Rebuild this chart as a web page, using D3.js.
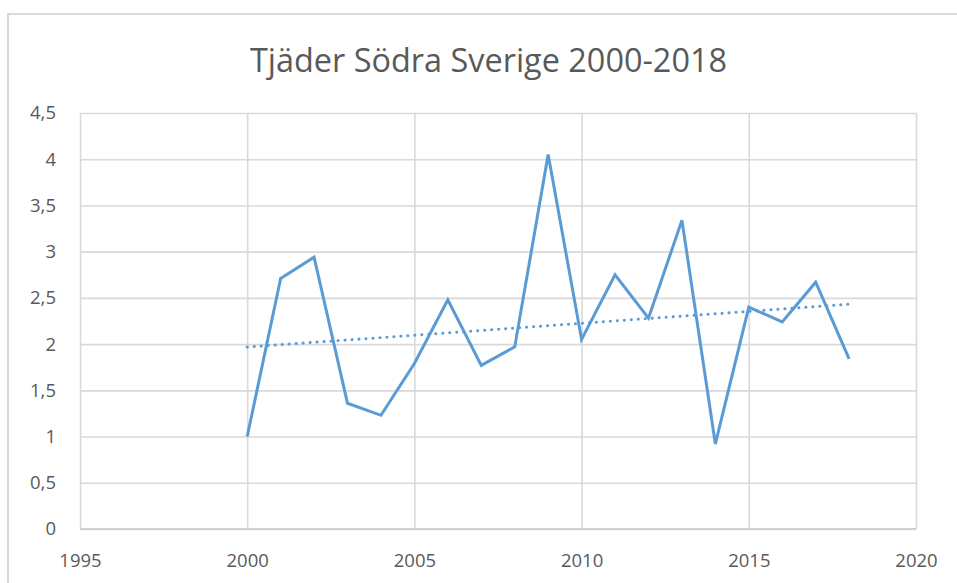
<!DOCTYPE html>
<html>
<head>
<meta charset="utf-8">
<script src="https://cdn.jsdelivr.net/npm/d3@7"></script>
<style>
  html, body { margin: 0; padding: 0; background: #fff; }
  svg { display: block; }
</style>
</head>
<body>
<svg id="chart" width="957" height="583"></svg>
<script>
// Capercaillie index, southern Sweden
const years = [2000, 2001, 2002, 2003, 2004, 2005, 2006, 2007, 2008, 2009,
               2010, 2011, 2012, 2013, 2014, 2015, 2016, 2017, 2018];
const values = [1.00, 2.71, 2.94, 1.36, 1.23, 1.79, 2.48, 1.77, 1.97, 4.05,
                2.05, 2.75, 2.28, 3.34, 0.92, 2.40, 2.24, 2.67, 1.84];
const xTicks = [1995, 2000, 2005, 2010, 2015, 2020];
const yTicks = [0, 0.5, 1, 1.5, 2, 2.5, 3, 3.5, 4, 4.5];
const titleText = "Tjäder Södra Sverige 2000-2018";

const svg = d3.select("#chart");
const font = "'Open Sans', 'Noto Sans', sans-serif";
const textColor = "#595959";
const gridColor = "#d9d9d9";
const lineColor = "#5b9bd5";

// outer chart frame
svg.append("rect")
  .attr("x", 8).attr("y", 14)
  .attr("width", 960).attr("height", 600)
  .attr("fill", "#fff")
  .attr("stroke", gridColor).attr("stroke-width", 2);

const plot = { left: 80, right: 916, top: 113, bottom: 529 };
const x = d3.scaleLinear().domain([1995, 2020]).range([plot.left, plot.right]);
const y = d3.scaleLinear().domain([0, 4.5]).range([plot.bottom, plot.top]);
const fmt = v => String(v).replace(".", ",");

// title
svg.append("text")
  .attr("x", 250).attr("y", 72)
  .attr("textLength", 477).attr("lengthAdjust", "spacingAndGlyphs")
  .attr("font-family", font).attr("font-size", 33)
  .attr("fill", textColor)
  .text(titleText);

// horizontal gridlines + y labels
const yAxis = d3.axisLeft(y).tickValues(yTicks).tickFormat(fmt)
  .tickSize(-(plot.right - plot.left)).tickPadding(24);
const gy = svg.append("g").attr("transform", `translate(${plot.left},0)`).call(yAxis);
gy.select(".domain").remove();
gy.selectAll(".tick line").attr("stroke", gridColor).attr("stroke-width", 1.6);
gy.selectAll(".tick text")
  .attr("font-family", font).attr("font-size", 18.5).attr("fill", textColor);

// vertical gridlines + x labels
const xAxis = d3.axisBottom(x).tickValues(xTicks).tickFormat(d3.format("d"))
  .tickSize(-(plot.bottom - plot.top)).tickPadding(25);
const gx = svg.append("g").attr("transform", `translate(0,${plot.bottom})`).call(xAxis);
gx.select(".domain").remove();
gx.selectAll(".tick line").attr("stroke", gridColor).attr("stroke-width", 1.6);
gx.selectAll(".tick text")
  .attr("font-family", font).attr("font-size", 18.5).attr("fill", textColor);

// horizontal axis baseline
svg.append("line")
  .attr("x1", plot.left).attr("x2", plot.right)
  .attr("y1", y(0)).attr("y2", y(0))
  .attr("stroke", "#cfcfcf").attr("stroke-width", 2);

// data series
const data = years.map((yr, i) => ({ yr, v: values[i] }));
svg.append("path")
  .datum(data)
  .attr("fill", "none")
  .attr("stroke", lineColor).attr("stroke-width", 3)
  .attr("stroke-linejoin", "miter")
  .attr("d", d3.line().x(d => x(d.yr)).y(d => y(d.v)));

// linear trend (least squares)
const mx = d3.mean(years), my = d3.mean(values);
const slope = d3.sum(data, d => (d.yr - mx) * (d.v - my)) / d3.sum(years, yr => (yr - mx) ** 2);
const trendAt = yr => my + slope * (yr - mx);
const x0 = years[0], x1 = years[years.length - 1];
svg.append("line")
  .attr("x1", x(x0)).attr("y1", y(trendAt(x0)))
  .attr("x2", x(x1)).attr("y2", y(trendAt(x1)))
  .attr("stroke", lineColor).attr("stroke-width", 3)
  .attr("stroke-linecap", "round")
  .attr("stroke-dasharray", "0.1 6.9");
</script>
</body>
</html>
